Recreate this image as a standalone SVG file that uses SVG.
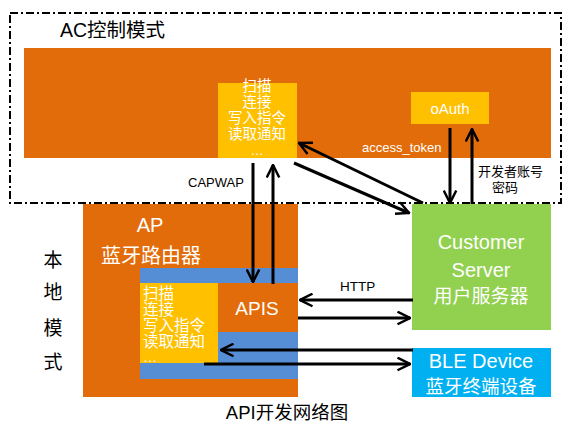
<svg xmlns="http://www.w3.org/2000/svg" width="571" height="427" viewBox="0 0 571 427">
<style>
.t{font-family:"Liberation Sans","Noto Sans CJK SC",sans-serif;}
.w{fill:#ffffff;}
.b{fill:#000000;}
.ln{stroke:#000;stroke-width:3;fill:none;marker-end:url(#ah);}
</style>
<defs>
<marker id="ah" viewBox="0 0 12 12" refX="11" refY="6" markerWidth="5" markerHeight="5" orient="auto" markerUnits="strokeWidth">
<polyline points="1,1 11,6 1,11" fill="none" stroke="#000" stroke-width="2"/>
</marker>
</defs>
<rect x="0" y="0" width="571" height="427" fill="#fff"/>
<g id="ac-mode">
<rect x="10" y="13" width="551" height="190" fill="none" stroke="#000" stroke-width="2" stroke-dasharray="8,3,2,3"/>
<text class="t b" x="60" y="37" font-size="19.5">AC控制模式</text>
<rect x="24" y="48" width="527" height="110" fill="#E36C0A"/>
</g>
<g id="ac-ops">
<rect x="218" y="83" width="79" height="75" fill="#FFC000"/>
<text class="t w" font-size="14.5" text-anchor="middle"><tspan x="257" y="91">扫描</tspan><tspan x="257" y="107">连接</tspan><tspan x="257" y="123">写入指令</tspan><tspan x="257" y="139">读取通知</tspan></text>
<text class="t w" x="257" y="155" font-size="13" text-anchor="middle">…</text>
</g>
<g id="oauth">
<rect x="411" y="92" width="78" height="32" fill="#FFC000"/>
<text class="t w" x="450" y="114" font-size="15" text-anchor="middle">oAuth</text>
</g>
<g id="ap">
<rect x="83" y="204" width="215" height="193" fill="#E36C0A"/>
<text class="t w" x="150" y="232" font-size="20" text-anchor="middle">AP</text>
<text class="t w" x="151" y="263" font-size="20" text-anchor="middle">蓝牙路由器</text>
<rect x="140" y="268" width="158" height="111" fill="#558ED5"/>
</g>
<g id="ap-ops">
<rect x="140" y="283" width="78" height="80" fill="#FFC000"/>
<text class="t w" font-size="15.5"><tspan x="143" y="299">扫描</tspan><tspan x="143" y="315">连接</tspan><tspan x="143" y="331">写入指令</tspan><tspan x="143" y="347">读取通知</tspan></text>
<text class="t w" x="143" y="362" font-size="14">…</text>
</g>
<g id="apis">
<rect x="218" y="283" width="80" height="49" fill="#E36C0A"/>
<text class="t w" x="257" y="315" font-size="19" text-anchor="middle">APIS</text>
</g>
<g id="customer-server">
<rect x="412" y="204" width="139" height="126" fill="#92D050"/>
<text class="t w" font-size="20" text-anchor="middle"><tspan x="481" y="249">Customer</tspan><tspan x="481" y="277">Server</tspan></text>
<text class="t w" x="481" y="303" font-size="19" text-anchor="middle">用户服务器</text>
</g>
<g id="ble-device">
<rect x="412" y="348" width="139" height="49" fill="#00B0F0"/>
<text class="t w" x="481" y="368" font-size="20" text-anchor="middle">BLE Device</text>
<text class="t w" x="481" y="393" font-size="18.5" text-anchor="middle">蓝牙终端设备</text>
</g>
<g id="local-mode">
<text class="t b" font-size="19" text-anchor="middle"><tspan x="53" y="267">本</tspan><tspan x="53" y="299">地</tspan><tspan x="53" y="335">模</tspan><tspan x="53" y="369">式</tspan></text>
</g>
<g id="connectors">
<line class="ln" x1="253" y1="163" x2="253" y2="282"/>
<line class="ln" x1="273" y1="284" x2="273" y2="165"/>
<line class="ln" x1="423" y1="203" x2="299" y2="143"/>
<line class="ln" x1="294" y1="163" x2="409" y2="213"/>
<line class="ln" x1="450" y1="128" x2="450" y2="203"/>
<line class="ln" x1="472" y1="204" x2="472" y2="129"/>
<line class="ln" x1="413" y1="300" x2="300" y2="300"/>
<line class="ln" x1="298" y1="318" x2="410" y2="318"/>
<line class="ln" x1="413" y1="350" x2="221" y2="350"/>
<line class="ln" x1="204" y1="364" x2="410" y2="364"/>
<text class="t w" x="362" y="152" font-size="13">access_token</text>
<text class="t b" x="188" y="187" font-size="13">CAPWAP</text>
<text class="t b" x="478" y="176" font-size="13">开发者账号</text>
<text class="t b" x="492" y="192" font-size="13">密码</text>
<text class="t b" x="340" y="291" font-size="13.5">HTTP</text>
</g>
<text class="t b" x="287" y="419" font-size="18.5" text-anchor="middle">API开发网络图</text>
</svg>
